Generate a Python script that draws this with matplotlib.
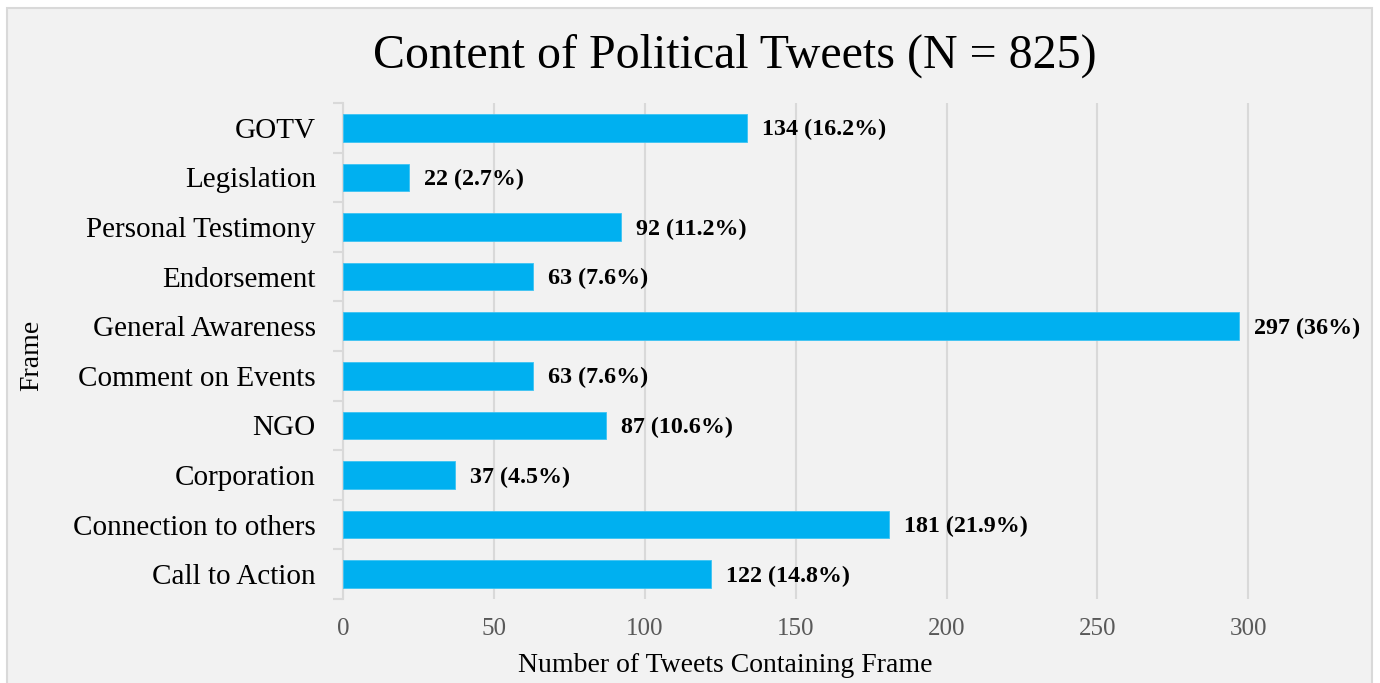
import numpy as np
import matplotlib.pyplot as plt
from matplotlib.patches import Rectangle

# Frame categories, top to bottom, with tweet counts and shares
frames = ["GOTV", "Legislation", "Personal Testimony", "Endorsement",
          "General Awareness", "Comment on Events", "NGO", "Corporation",
          "Connection to others", "Call to Action"]
counts = [134, 22, 92, 63, 297, 63, 87, 37, 181, 122]
shares = ["16.2%", "2.7%", "11.2%", "7.6%", "36%", "7.6%", "10.6%",
          "4.5%", "21.9%", "14.8%"]
xticks = [0, 50, 100, 150, 200, 250, 300]

plt.rcParams['font.family'] = ['Liberation Serif', 'DejaVu Serif']

bg = '#F2F2F2'
grid = '#D9D9D9'

fig = plt.figure(figsize=(13.8, 6.83), dpi=100, facecolor='white')
# chart area panel with thin border
fig.patches.append(Rectangle((7 / 1380, -0.01), 1365 / 1380, 1 - 8 / 683 + 0.01,
                             transform=fig.transFigure, facecolor=bg,
                             edgecolor=grid, linewidth=1.5, zorder=-1))

ax = fig.add_axes([343 / 1380, 1 - 599 / 683, 1017 / 1380, 496 / 683])
ax.set_zorder(2)
ax.set_facecolor(bg)

y = np.arange(len(frames))
ax.barh(y, counts, height=0.56, color='#00B0F0', edgecolor='#3DC3F3',
        linewidth=0.6, zorder=3)

for yi, c, s in zip(y, counts, shares):
    ax.text(c + 5, yi + 0.04, f"{c} ({s})", va='center', ha='left',
            fontsize=17.3, fontweight='bold', color='black')

ax.set_ylim(len(frames) - 0.5, -0.5)
ax.set_xlim(0, 337)
ax.set_yticks(y)
ax.set_yticklabels(frames, fontsize=21)
ax.set_yticks(np.arange(-0.5, len(frames), 1), minor=True)
ax.tick_params(axis='y', which='major', length=0, pad=19.5)
ax.tick_params(axis='y', which='minor', length=7, color=grid, width=1.5)

ax.set_xticks(xticks)
ax.tick_params(axis='x', length=0, labelsize=18, labelcolor='#595959', pad=14)
ax.xaxis.grid(True, color=grid, linewidth=1.5, zorder=0)
ax.set_axisbelow(True)

for side in ['top', 'right', 'bottom']:
    ax.spines[side].set_visible(False)
ax.spines['left'].set_color(grid)
ax.spines['left'].set_linewidth(1.5)

fig.text(725 / 1380, 1 - 665 / 683, "Number of Tweets Containing Frame",
         fontsize=20, ha='center', va='center')
fig.text(32 / 1380, 1 - 355 / 683, "Frame", rotation=90, fontsize=20,
         ha='center', va='center')
fig.text(735 / 1380, 1 - 56 / 683, "Content of Political Tweets (N = 825)",
         fontsize=34.5, ha='center', va='center')

fig.savefig('out.png', dpi=100, facecolor=fig.get_facecolor())
